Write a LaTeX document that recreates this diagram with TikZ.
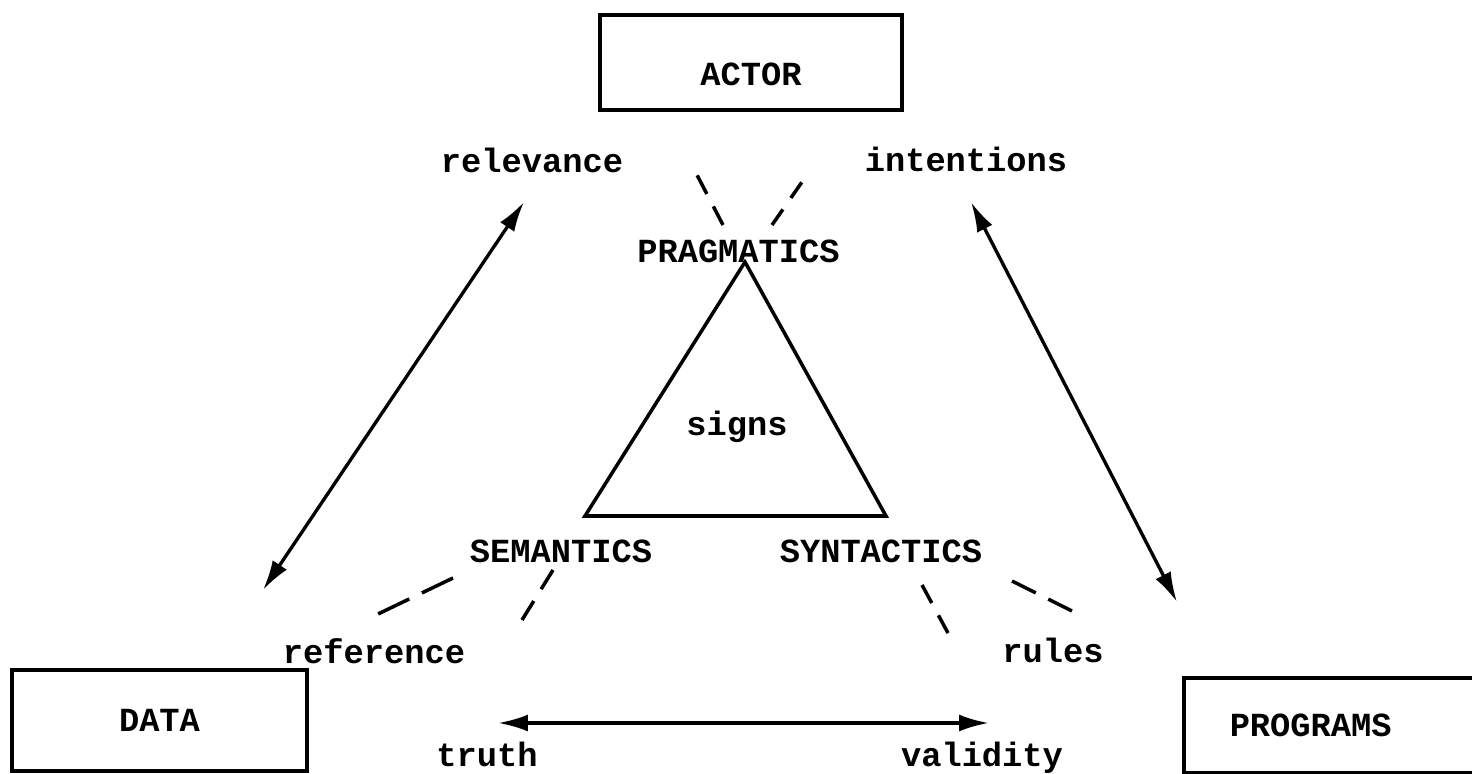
\documentclass[tikz,border=0pt]{standalone}
\usepackage{fontspec}
\setmainfont{Liberation Mono}
\usetikzlibrary{arrows.meta}

\newcommand{\lblfont}{\fontsize{19.2}{23}\selectfont\bfseries}

\begin{document}
\begin{tikzpicture}[
    x=0.02cm, y=-0.02cm,
    box/.style={rectangle, draw, line width=2pt, minimum height=1.9cm, font=\lblfont},
    lbl/.style={inner sep=0pt, anchor=base, font=\lblfont},
    both/.style={{Latex[length=0.6cm,width=0.34cm]}-{Latex[length=0.6cm,width=0.34cm]}, line width=1.9pt},
    dashlink/.style={line width=2pt, dash pattern=on #1 off 0.28cm}
]
\useasboundingbox (0,0) rectangle (1472,774);

% Boxes
\node[box, minimum width=6.04cm, inner ysep=0pt, text height=1.33cm, text depth=0.4cm] (actor) at (751,62.5) {ACTOR};
\node[box, minimum width=5.9cm, minimum height=2.02cm] (data) at (159.5,720.5) {DATA};
\node[box, anchor=north west, text width=5cm, inner xsep=0.92cm, align=left] (programs) at (1182,676) {PROGRAMS};

% Triangle of signs
\coordinate (top) at (745,262);
\coordinate (bl) at (585,516);
\coordinate (br) at (886,516);
\draw[line width=2pt] (top) -- (bl) -- (br) -- cycle;

% Labels
\node[lbl] (pragmatics) at (738.5,262) {PRAGMATICS};
\node[lbl] (signs) at (737,435) {signs};
\node[lbl] (semantics) at (561,562) {SEMANTICS};
\node[lbl] (syntactics) at (881,562) {SYNTACTICS};
\node[lbl] (relevance) at (532,172) {relevance};
\node[lbl] (intentions) at (966,171) {intentions};
\node[lbl] (reference) at (374,663) {reference};
\node[lbl] (rules) at (1053,662) {rules};
\node[lbl] (truth) at (487,766) {truth};
\node[lbl] (validity) at (982,766) {validity};

% Double arrows
\coordinate (relTip) at (524,202);
\coordinate (datTip) at (263,590);
\coordinate (intTip) at (971,202);
\coordinate (prgTip) at (1177,602);
\coordinate (truTip) at (498,723);
\coordinate (valTip) at (989,723);
\draw[both] (relTip) -- (datTip);
\draw[both] (intTip) -- (prgTip);
\draw[both] (truTip) -- (valTip);

% Dashed links
\coordinate (pragA) at (723,225);
\coordinate (pragB) at (697,175);
\coordinate (pragC) at (772,225);
\coordinate (pragD) at (802,182);
\coordinate (semA) at (453,578);
\coordinate (semB) at (378,614);
\coordinate (semC) at (553,570);
\coordinate (semD) at (522,620);
\coordinate (synA) at (922,585);
\coordinate (synB) at (948,633);
\coordinate (synC) at (1012,581);
\coordinate (synD) at (1072,611);
\draw[dashlink=0.42cm] (pragA) -- (pragB);
\draw[dashlink=0.38cm] (pragC) -- (pragD);
\draw[dashlink=0.69cm] (semA) -- (semB);
\draw[dashlink=0.45cm] (semC) -- (semD);
\draw[dashlink=0.41cm] (synA) -- (synB);
\draw[dashlink=0.53cm] (synC) -- (synD);

\end{tikzpicture}
\end{document}
